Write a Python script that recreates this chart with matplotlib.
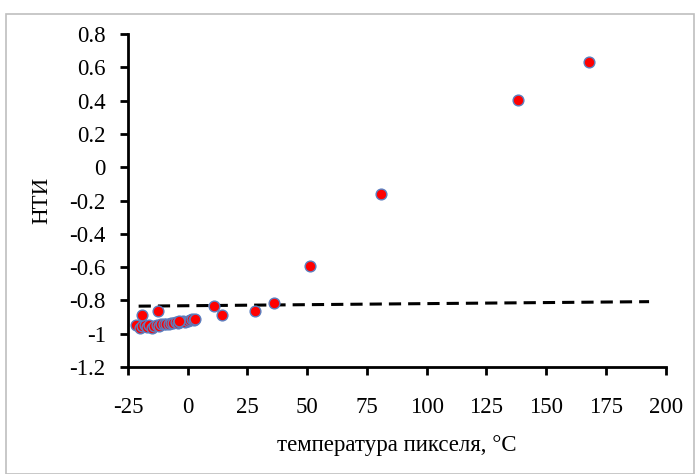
import matplotlib
matplotlib.use('Agg')
import numpy as np
from matplotlib import pyplot as plt
from matplotlib.patches import Rectangle

# temperature of pixel (C) and NTI values
temp = [-21.5, -20, -19, -18, -17, -16, -15, -14, -13, -12, -11, -10, -9, -8,
        -7, -6, -5, -4, -3, -2, -1, 0, 1, 2, 2.5, 3,
        -19, -12.5, -3.5, 11, 14.5, 28, 36, 51, 81, 138, 168]
nti = [-0.95, -0.965, -0.955, -0.95, -0.96, -0.95, -0.965, -0.955, -0.95, -0.955, -0.945, -0.945, -0.94, -0.945,
       -0.935, -0.935, -0.93, -0.935, -0.93, -0.925, -0.93, -0.925, -0.92, -0.915, -0.92, -0.91,
       -0.89, -0.865, -0.925, -0.832, -0.888, -0.862, -0.815, -0.595, -0.16, 0.405, 0.633]

# dashed line ends
line_x = [-20.5, 193]
line_y = [-0.835, -0.808]

x_ticks = [-25, 0, 25, 50, 75, 100, 125, 150, 175, 200]
y_ticks = [-1.2, -1.0, -0.8, -0.6, -0.4, -0.2, 0.0, 0.2, 0.4, 0.6, 0.8]
y_labels = ['-1.2', '-1', '-0.8', '-0.6', '-0.4', '-0.2', '0', '0.2', '0.4', '0.6', '0.8']

plt.rcParams['font.family'] = ['Liberation Serif', 'DejaVu Serif']

fig = plt.figure(figsize=(6.95, 4.74), dpi=100)
fig.patches.append(Rectangle((0.008, 0.0), 0.99, 0.97, transform=fig.transFigure,
                             fill=False, edgecolor='#bfbfbf', linewidth=1.2))
ax = fig.add_axes([0.184, 0.226, 0.774, 0.702])

ax.plot(line_x, line_y, color='black', linestyle=(0, (4, 2.3)), linewidth=2.2, zorder=2)
ax.scatter(temp, nti, s=60, color='#ff0000', edgecolors='#5b7fc0', linewidths=1.0, zorder=3)

ax.set_xlim(-25, 200)
ax.set_ylim(-1.2, 0.8)
ax.set_xticks(x_ticks)
ax.set_xticklabels([str(t) for t in x_ticks])
ax.set_yticks(y_ticks)
ax.set_yticklabels(y_labels)

ax.spines['top'].set_visible(False)
ax.spines['right'].set_visible(False)
ax.spines['left'].set_linewidth(2)
ax.spines['bottom'].set_linewidth(2)
ax.tick_params(direction='out', length=6, width=2, labelsize=16.5)
ax.tick_params(axis='x', pad=16)
ax.tick_params(axis='y', pad=10)

ax.set_xlabel('температура пикселя, °C', fontsize=16.5, labelpad=12)
ax.set_ylabel('НТИ', fontsize=16.5, labelpad=12)

plt.savefig('out.png', dpi=100)
plt.close()
